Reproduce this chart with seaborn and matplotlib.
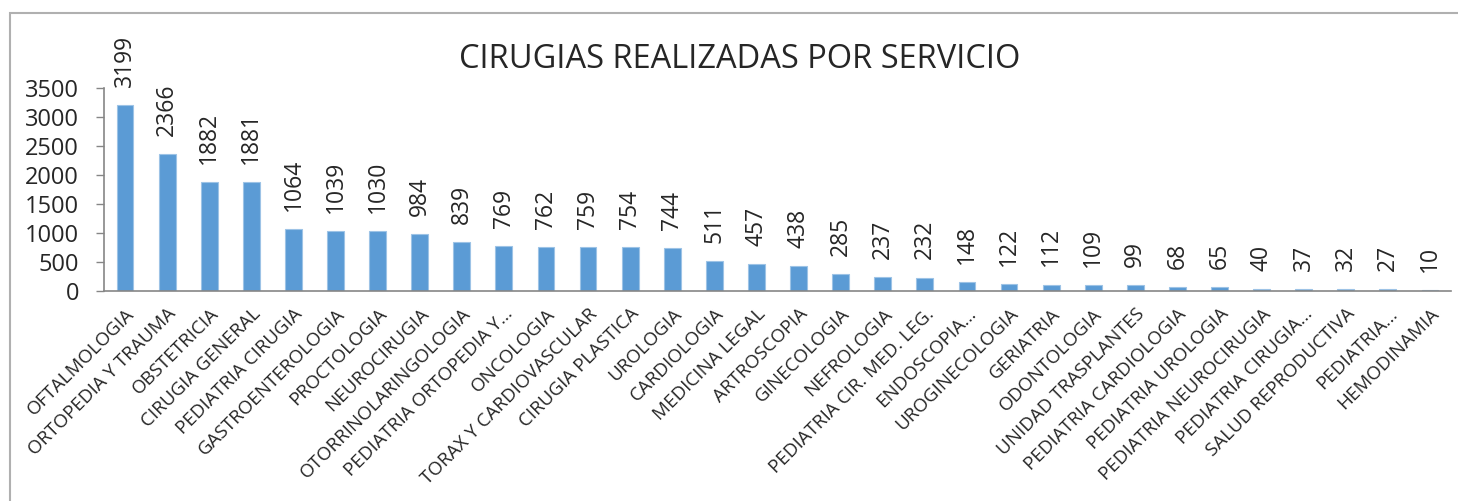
import matplotlib
matplotlib.use("Agg")
import matplotlib.pyplot as plt
import seaborn as sns
import pandas as pd
from matplotlib.patches import Rectangle

categories = [
    "OFTALMOLOGIA", "ORTOPEDIA Y TRAUMA", "OBSTETRICIA", "CIRUGIA GENERAL",
    "PEDIATRIA CIRUGIA", "GASTROENTEROLOGIA", "PROCTOLOGIA", "NEUROCIRUGIA",
    "OTORRINOLARINGOLOGIA", "PEDIATRIA ORTOPEDIA Y…", "ONCOLOGIA",
    "TORAX Y CARDIOVASCULAR", "CIRUGIA PLASTICA", "UROLOGIA", "CARDIOLOGIA",
    "MEDICINA LEGAL", "ARTROSCOPIA", "GINECOLOGIA", "NEFROLOGIA",
    "PEDIATRIA CIR. MED. LEG.", "ENDOSCOPIA…", "UROGINECOLOGIA", "GERIATRIA",
    "ODONTOLOGIA", "UNIDAD TRASPLANTES", "PEDIATRIA CARDIOLOGIA",
    "PEDIATRIA UROLOGIA", "PEDIATRIA NEUROCIRUGIA", "PEDIATRIA CIRUGIA…",
    "SALUD REPRODUCTIVA", "PEDIATRIA…", "HEMODINAMIA",
]
values = [3199, 2366, 1882, 1881, 1064, 1039, 1030, 984, 839, 769, 762, 759,
          754, 744, 511, 457, 438, 285, 237, 232, 148, 122, 112, 109, 99, 68,
          65, 40, 37, 32, 27, 10]
yticks = [0, 500, 1000, 1500, 2000, 2500, 3000, 3500]
title = "CIRUGIAS REALIZADAS POR SERVICIO"

sns.set_style("white")
plt.rcParams["font.family"] = ["Open Sans", "DejaVu Sans"]

W, H = 1458, 501
fig = plt.figure(figsize=(W / 100, H / 100), dpi=100)
ax = fig.add_axes([104 / W, 1 - 291 / H, (1451 - 104) / W, (291 - 88) / H])

df = pd.DataFrame({"cat": categories, "val": values})
sns.barplot(data=df, x="cat", y="val", color="#5B9BD5", saturation=1,
            width=0.4, edgecolor="#9DC3E6", linewidth=0.8, ax=ax)

ax.set_xlim(-0.5, len(categories) - 0.5)
ax.set_ylim(0, 3500)
ax.set_yticks(yticks)
ax.set_yticklabels([str(t) for t in yticks], fontsize=17)
ax.set_xlabel("")
ax.set_ylabel("")
ax.set_xticks(range(len(categories)))
ax.set_xticklabels(categories, rotation=45, ha="right", rotation_mode="anchor",
                   fontsize=13.5)
ax.tick_params(axis="x", length=0, pad=10)
ax.tick_params(axis="y", length=6, width=1, color="#868686", left=True, pad=12)

for s in ["top", "right"]:
    ax.spines[s].set_visible(False)
for s in ["left", "bottom"]:
    ax.spines[s].set_color("#868686")
    ax.spines[s].set_linewidth(1.2)

for c in ax.containers:
    ax.bar_label(c, labels=[str(v) for v in values], rotation=90, padding=13,
                 fontsize=16.5)

fig.text(740 / W, 1 - 60 / H, title, ha="center", va="center", fontsize=23.5)

fig.patches.append(Rectangle((10 / W, -0.5), 2.0, 1 - 13 / H + 0.5,
                             transform=fig.transFigure, fill=False,
                             edgecolor="#B0B0B0", linewidth=1.5, zorder=-1))

fig.savefig("out.png", dpi=100, facecolor="white")
